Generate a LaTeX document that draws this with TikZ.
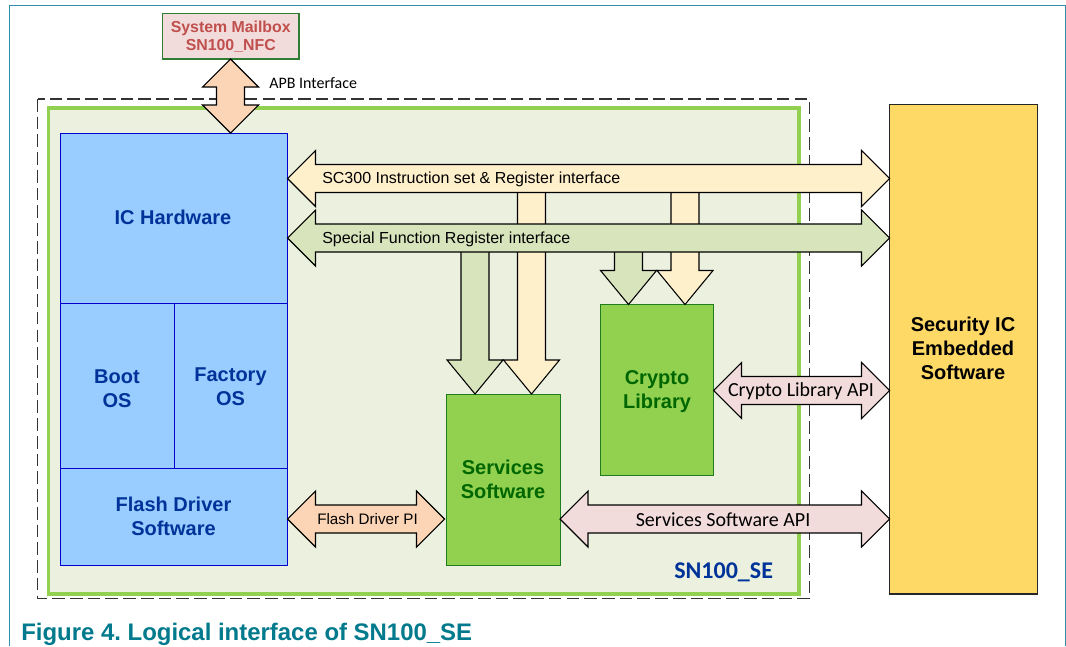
\documentclass[tikz,border=0pt]{standalone}
\usepackage{fontspec}
\setmainfont{Liberation Sans}
\newfontfamily\calib{Carlito}
\usetikzlibrary{calc}
\definecolor{frameC}{HTML}{2F8FA8}
\definecolor{pinkF}{HTML}{F2DCDB}
\definecolor{mailT}{HTML}{C0504D}
\definecolor{mailD}{HTML}{2E7D32}
\definecolor{peachF}{HTML}{FBD5B5}
\definecolor{paleG}{HTML}{EBF1DE}
\definecolor{limeL}{HTML}{92D050}
\definecolor{blueF}{HTML}{99CCFF}
\definecolor{blueD}{HTML}{0000CC}
\definecolor{blueT}{HTML}{003399}
\definecolor{greenT}{HTML}{006600}
\definecolor{greenD}{HTML}{1E7E1E}
\definecolor{creamF}{HTML}{FFF0CC}
\definecolor{sageF}{HTML}{D8E4BC}
\definecolor{goldF}{HTML}{FFD966}
\definecolor{capT}{HTML}{007A8C}
\newcommand{\fsz}[1]{\fontsize{#1}{18pt}\selectfont}
\newcommand{\fszmail}{\fontsize{11.9pt}{13.5pt}\selectfont}
% double horizontal block arrow between two points
\newcommand{\blockH}[3]{\draw[blockline,fill=#1] let \p1=(#2),\p2=(#3) in
  (\x1,\y1) -- (\x1+21pt,\y1+21pt) -- (\x1+21pt,\y1+10.5pt) -- (\x2-21pt,\y1+10.5pt) -- (\x2-21pt,\y1+21pt)
  -- (\x2,\y1) -- (\x2-21pt,\y1-21pt) -- (\x2-21pt,\y1-10.5pt) -- (\x1+21pt,\y1-10.5pt) -- (\x1+21pt,\y1-21pt) -- cycle;}
% double vertical block arrow, #2 upper tip, #3 lower tip
\newcommand{\blockV}[3]{\draw[blockline,fill=#1] let \p1=(#2),\p2=(#3) in
  (\x1,\y1) -- (\x1+21pt,\y1-21pt) -- (\x1+10.5pt,\y1-21pt) -- (\x1+10.5pt,\y2+21pt) -- (\x1+21pt,\y2+21pt)
  -- (\x1,\y2) -- (\x1-21pt,\y2+21pt) -- (\x1-10.5pt,\y2+21pt) -- (\x1-10.5pt,\y1-21pt) -- (\x1-21pt,\y1-21pt) -- cycle;}
% single downward block arrow, #2 start, #3 tip
\newcommand{\blockD}[3]{\draw[blockline,fill=#1] let \p1=(#2),\p2=(#3) in
  (\x2-10.5pt,\y1) -- (\x2-10.5pt,\y2+25.5pt) -- (\x2-21pt,\y2+25.5pt) -- (\x2,\y2)
  -- (\x2+21pt,\y2+25.5pt) -- (\x2+10.5pt,\y2+25.5pt) -- (\x2+10.5pt,\y1);}
\tikzset{
  x=0.75pt,y=-0.75pt,
  blockline/.style={draw=black,line width=0.8pt,line join=miter},
  box/.style={rectangle,anchor=north west,inner sep=0pt,outer sep=0pt,line width=0.7pt},
  hwbox/.style={box,draw=blueD,fill=blueF},
  swbox/.style={box,draw=greenD,fill=limeL},
  boxtext/.style={inner sep=0pt,align=center,font=\fsz{15pt}\bfseries},
  hwtext/.style={boxtext,text=blueT},
  swtext/.style={boxtext,text=greenT},
  arrowlabel/.style={inner sep=0pt,text=black,font=\fsz{12pt}},
  apilabel/.style={inner sep=0pt,text=black,font=\calib\fsz{15pt}}
}
\begin{document}
\begin{tikzpicture}
\frenchspacing
\useasboundingbox (0,0) rectangle (1066,646);
\fill[white] (0,0) rectangle (1066,646);
\draw[frameC,line width=1.2pt] (9.5,646) -- (9.5,5.5) -- (1065.5,5.5) -- (1065.5,646);

\draw[black!80,line width=1.4pt,dash pattern=on 9.5pt off 3.8pt] (37.5,99) rectangle (809.5,598.5);
\node[box,draw=limeL,fill=paleG,line width=2.3pt,minimum width=750.5*0.75pt,minimum height=486*0.75pt] (se) at (48.5,108) {};
\node[anchor=base west,inner sep=0pt,text=blueT,font=\calib\fsz{18pt}\bfseries] (selabel) at (674,578) {SN100\_SE};

\node[box,minimum width=136.5*0.75pt,minimum height=45.5*0.75pt,draw=mailD,fill=pinkF,line width=0.8pt] (mail) at (162.5,13.5) {};
\node[boxtext,text=mailT,font=\fszmail\bfseries] (mailtext) at (mail.center) {System Mailbox\\SN100\_NFC};

\node[hwbox,minimum width=227.5*0.75pt,minimum height=170*0.75pt] (ic) at (60,133) {};
\node[hwbox,minimum width=114*0.75pt,minimum height=165*0.75pt] (boot) at (60,303) {};
\node[hwbox,minimum width=113.5*0.75pt,minimum height=165*0.75pt] (fact) at (174,303) {};
\node[hwbox,minimum width=227.5*0.75pt,minimum height=97*0.75pt] (flash) at (60,468) {};
\node[swbox,minimum width=113.5*0.75pt,minimum height=171*0.75pt] (serv) at (446.5,394) {};
\node[swbox,minimum width=113.5*0.75pt,minimum height=171*0.75pt] (cryp) at (600,304.5) {};
\node[box,minimum width=148*0.75pt,minimum height=489.5*0.75pt,draw=black!85,fill=goldF,line width=0.9pt] (sec) at (889.5,104.5) {};

\node[hwtext] (icT) at (173,217) {IC Hardware};
\node[hwtext] (bootT) at (117,389) {Boot\\OS};
\node[hwtext] (factT) at (230.5,387) {Factory\\OS};
\node[hwtext] (flashT) at (173.5,516) {Flash Driver\\Software};
\node[swtext] (servT) at (503,479) {Services\\Software};
\node[swtext] (crypT) at (657,392) {Crypto\\Library};
\node[boxtext,text=black] (secT) at (963,348) {Security IC\\Embedded\\Software};

% anchors of the block arrows
\coordinate (apbT) at (mail.south -| 230.5,0);
\coordinate (apbB) at (ic.north -| 230.5,0);
\coordinate (scL) at (ic.east |- 0,178.5);
\coordinate (scR) at (sec.west |- 0,178.5);
\coordinate (sfL) at (ic.east |- 0,238);
\coordinate (sfR) at (sec.west |- 0,238);
\coordinate (caL) at (cryp.east |- 0,390.5);
\coordinate (caR) at (sec.west |- 0,390.5);
\coordinate (saL) at (serv.east |- 0,519);
\coordinate (saR) at (sec.west |- 0,519);
\coordinate (fdL) at (flash.east |- 0,519);
\coordinate (fdR) at (444.5,519);
\coordinate (y1s) at (531.5,178.5);
\coordinate (y1t) at (531.5,394);
\coordinate (g1s) at (475,238);
\coordinate (g1t) at (475,394);
\coordinate (y2s) at (685,178.5);
\coordinate (y2t) at (685,304.5);
\coordinate (g2s) at (628.5,238);
\coordinate (g2t) at (628.5,304.5);

\blockV{peachF}{apbT}{apbB}
\blockD{creamF}{y1s}{y1t}
\blockD{creamF}{y2s}{y2t}
\blockD{sageF}{g1s}{g1t}
\blockD{sageF}{g2s}{g2t}
\blockH{creamF}{scL}{scR}
\blockH{sageF}{sfL}{sfR}
\blockH{pinkF}{caL}{caR}
\blockH{pinkF}{saL}{saR}
\blockH{peachF}{fdL}{fdR}

\node[inner sep=0pt,anchor=west,text=black,font=\calib\fsz{12pt}] (apb) at (269,83) {APB Interface};
\node[arrowlabel,anchor=west] (sclab) at (322,179) {SC300 Instruction set \& Register interface};
\node[arrowlabel,anchor=west] (sflab) at (322,239) {Special Function Register interface};
\node[apilabel,anchor=center] (calab) at (801,391) {Crypto Library API};
\node[apilabel,anchor=center] (salab) at (723,519.5) {Services Software API};
\node[arrowlabel,anchor=center,font=\fsz{11.4pt}] (fdlab) at (367.5,519.5) {Flash Driver PI};

\node[anchor=base west,inner sep=0pt,text=capT,font=\fsz{17.95pt}\bfseries] (cap) at (21,640) {Figure 4. Logical interface of SN100\_SE};
\end{tikzpicture}
\end{document}
